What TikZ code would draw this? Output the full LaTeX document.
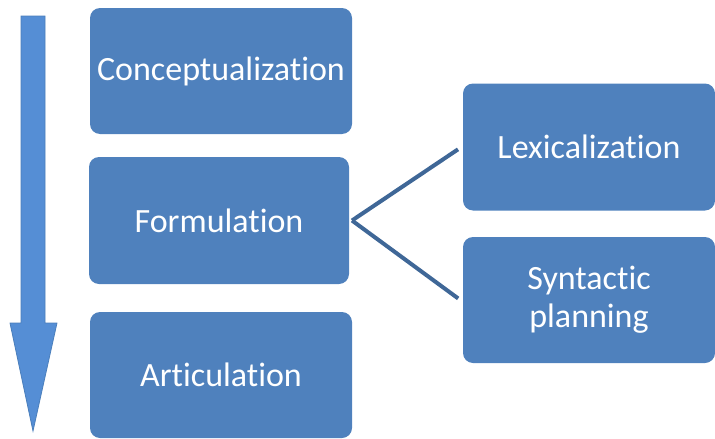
\documentclass[tikz,border=0pt]{standalone}
\usepackage{fontspec}
\setmainfont[RawFeature={-liga}]{Carlito}
\definecolor{boxblue}{HTML}{4F81BD}
\definecolor{arrowblue}{HTML}{558ED5}
\definecolor{arrowedge}{HTML}{4A7EBB}
\definecolor{forkblue}{HTML}{3F6797}
\tikzset{%
	stage/.style={inner sep=0pt,outer sep=0pt,shape=rectangle,rounded corners=10pt,fill=boxblue,text=white,font=\fontsize{34}{38}\selectfont,align=center},
	fork/.style={forkblue,line width=4pt,shorten >=6pt},
}

\begin{document}
\begin{tikzpicture}[x=1pt,y=-1pt]
			\useasboundingbox (0,0) rectangle (715,439);
			\fill[arrowblue, draw=arrowedge, line width=0.8pt] (21,16) -- (45,16) -- (45,323) -- (57,323) -- (33,431) -- (10,323) -- (21,323) -- cycle;
			\node[stage, minimum width=262pt, minimum height=126pt] (concept) at (221,71) {Conceptualization};
			\node[stage, minimum width=260pt, minimum height=127pt] (formul) at (219,220.5) {Formulation};
			\node[stage, minimum width=262pt, minimum height=126pt] (artic) at (221,375) {Articulation};
			\node[stage, minimum width=252pt, minimum height=127pt] (lexic) at (589,147) {Lexicalization};
			\node[stage, minimum width=252pt, minimum height=126pt] (syntax) at (589,300) {Syntactic\\planning};
			\coordinate (split) at ([xshift=3pt]formul.east);
			\draw[fork] (split) -- ([yshift=1pt]lexic.west);
			\draw[fork] (split) -- ([yshift=-2pt]syntax.west);
		\end{tikzpicture}
\end{document}
